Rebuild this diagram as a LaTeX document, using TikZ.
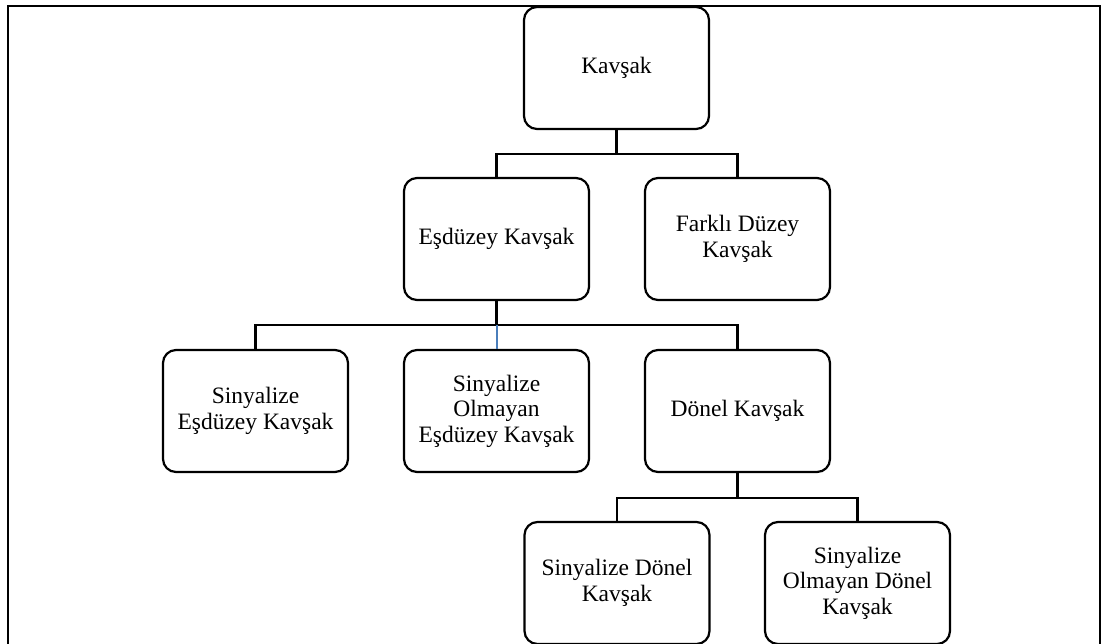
\documentclass[tikz,border=0pt]{standalone}
\usepackage{fontspec}
\setmainfont{Liberation Serif}
\definecolor{linkblue}{RGB}{74,126,187}
\tikzset{
  box/.style={draw, line width=2.2pt, rounded corners=13pt, minimum width=185pt,
    minimum height=122pt, align=center, inner sep=2pt,
    font=\fontsize{23.5pt}{25.5pt}\selectfont},
  link/.style={line width=2.2pt},
}
\begin{document}
\begin{tikzpicture}[x=1pt,y=-1pt]
  \useasboundingbox (0,0) rectangle (1105,643);
  \clip (0,0) rectangle (1105,643);
  % outer frame
  \draw[line width=2pt] (8,660) -- (8,6) -- (1100,6) -- (1100,660);

  % boxes
  \node[box] (k)   at (616.5,68)  {Kavşak};
  \node[box] (e)   at (496.5,239) {Eşdüzey Kavşak};
  \node[box] (f)   at (737.5,239) {Farklı Düzey\\Kavşak};
  \node[box] (s1)  at (255.5,411) {Sinyalize\\Eşdüzey Kavşak};
  \node[box] (s2)  at (496.5,411) {Sinyalize\\Olmayan\\Eşdüzey Kavşak};
  \node[box] (d)   at (737.5,411) {Dönel Kavşak};
  \node[box] (sd)  at (617,583)   {Sinyalize Dönel\\Kavşak};
  \node[box] (sod) at (857.5,583) {Sinyalize\\Olmayan Dönel\\Kavşak};

  % junction points
  \coordinate (j1) at (616.5,154);
  \coordinate (j2) at (496.5,325);
  \coordinate (j3) at (737.5,498);

  % connectors
  \draw[link] (k.south) -- (j1);
  \draw[link] (e.north) -- (e.north |- j1) -- (f.north |- j1) -- (f.north);

  \draw[link] (e.south) -- (j2);
  \draw[link] (s1.north) -- (s1.north |- j2) -- (d.north |- j2) -- (d.north);
  \draw[line width=2pt, linkblue] (j2) -- (s2.north);

  \draw[link] (d.south) -- (j3);
  \draw[link] (sd.north) -- (sd.north |- j3) -- (sod.north |- j3) -- (sod.north);
\end{tikzpicture}
\end{document}
